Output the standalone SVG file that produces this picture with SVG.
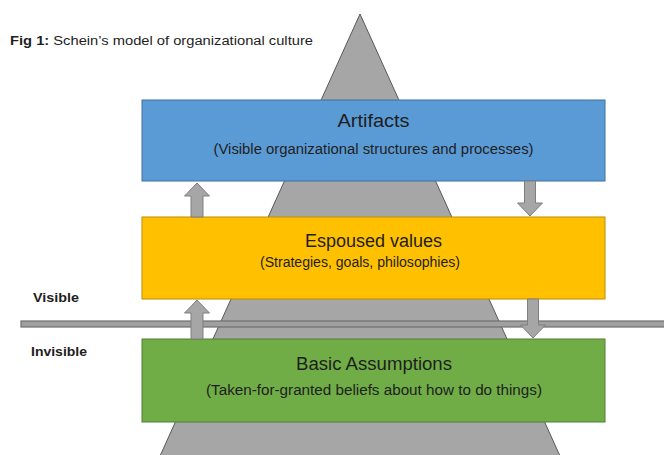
<svg xmlns="http://www.w3.org/2000/svg" width="664" height="455" viewBox="0 0 664 455">
<style>
.t{font-family:"Liberation Sans",Arial,sans-serif;fill:#1e1e1e}
.h{font-size:18px}
.s{font-size:14px}
.lbl{font-size:12.5px;font-weight:bold}
.arr{fill:#a6a6a6;stroke:#7f7f7f;stroke-width:1}
</style>
<rect width="664" height="455" fill="#ffffff"/>
<text class="t" x="10" y="45" font-size="12.5" textLength="303" lengthAdjust="spacingAndGlyphs"><tspan font-weight="bold">Fig 1:</tspan> Schein’s model of organizational culture</text>
<g id="pyramid">
<polygon points="360,14 160,456 560,456" fill="#a6a6a6" stroke="#595959" stroke-width="1"/>
</g>
<g id="divider">
<rect x="21" y="321" width="650" height="6" fill="#a0a0a0" stroke="#6e6e6e" stroke-width="1.2"/>
</g>
<text class="t lbl" x="33" y="302" textLength="46" lengthAdjust="spacingAndGlyphs">Visible</text>
<text class="t lbl" x="31" y="356" textLength="56" lengthAdjust="spacingAndGlyphs">Invisible</text>
<g id="artifacts">
<rect x="142" y="100" width="463" height="81" fill="#5b9bd5" stroke="#41719c" stroke-width="1"/>
<text class="t h" x="373.5" y="127" text-anchor="middle" textLength="72" lengthAdjust="spacingAndGlyphs">Artifacts</text>
<text class="t s" x="373.5" y="154" text-anchor="middle" textLength="320" lengthAdjust="spacingAndGlyphs">(Visible organizational structures and processes)</text>
</g>
<g id="espoused">
<rect x="142" y="217" width="463" height="82" fill="#ffc000" stroke="#bc8c00" stroke-width="1"/>
<text class="t h" x="373.5" y="247" text-anchor="middle" textLength="137" lengthAdjust="spacingAndGlyphs">Espoused values</text>
<text class="t s" x="360" y="267" text-anchor="middle" textLength="200" lengthAdjust="spacingAndGlyphs">(Strategies, goals, philosophies)</text>
</g>
<g id="assumptions">
<rect x="142" y="339" width="463" height="83" fill="#70ad47" stroke="#507e32" stroke-width="1"/>
<text class="t h" x="374" y="370" text-anchor="middle" textLength="156" lengthAdjust="spacingAndGlyphs">Basic Assumptions</text>
<text class="t s" x="374" y="395" text-anchor="middle" textLength="336" lengthAdjust="spacingAndGlyphs">(Taken-for-granted beliefs about how to do things)</text>
</g>
<g id="connectors">
<polygon class="arr" points="197,183 209.5,196 203,196 203,217 191,217 191,196 184.5,196"/>
<polygon class="arr" points="197,300 209.5,313 203,313 203,339 191,339 191,313 184.5,313"/>
<polygon class="arr" points="530,216 542.5,203 535.5,203 535.5,181 524.5,181 524.5,203 517.5,203"/>
<polygon class="arr" points="533,338 545.5,325 538.5,325 538.5,299 527.5,299 527.5,325 520.5,325"/>
</g>
</svg>
